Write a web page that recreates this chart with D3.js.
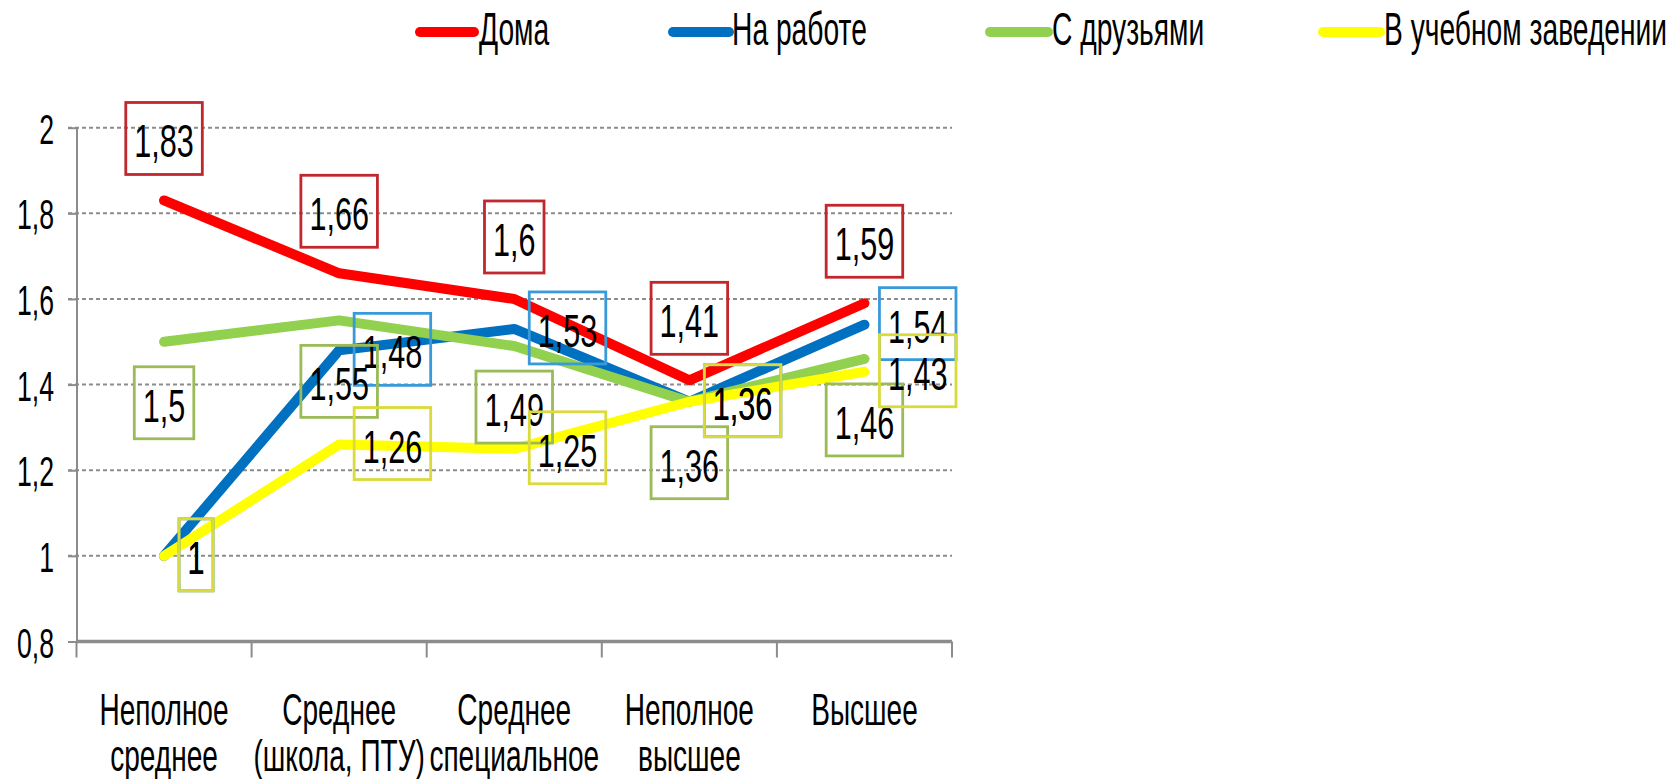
<!DOCTYPE html>
<html><head><meta charset="utf-8">
<script src="https://cdn.jsdelivr.net/npm/d3@7"></script>
<style>
html,body{margin:0;padding:0;background:#fff;}
svg text{font-family:"Liberation Sans Narrow","Arial Narrow","Liberation Sans",sans-serif;fill:#000;}
</style></head>
<body><svg id="c" width="1669" height="779"></svg>
<script>
const categories = [["Неполное","среднее"],["Среднее","(школа, ПТУ)"],["Среднее","специальное"],["Неполное","высшее"],["Высшее"]];
const seriesNames = ["Дома","На работе","С друзьями","В учебном заведении"];
const home    = [1.83, 1.66, 1.6, 1.41, 1.59];
const work    = [1.0, 1.48, 1.53, 1.36, 1.54];
const friends = [1.5, 1.55, 1.49, 1.36, 1.46];
const school  = [1.0, 1.26, 1.25, 1.36, 1.43];
const yTicks  = [0.8, 1.0, 1.2, 1.4, 1.6, 1.8, 2.0];

const lineColors  = ["#FF0000","#0070C0","#92D050","#FFFF00"];
const boxColors   = ["#C0282E","#3A9AD9","#9BBB59","#DADA3A"];
const labelPos    = ["above","right","below","right"];
const values = [home, work, friends, school];

const SY = 1.36;
const svg = d3.select("#c");
const catKeys = categories.map((c,i)=>i);
const x = d3.scaleBand().domain(catKeys).range([76.5, 952]).padding(0);
const y = d3.scaleLinear().domain([0.8, 2]).range([641.5, 127.7]);
const cx = i => x(i) + x.bandwidth()/2;
const fmt = v => String(v).replace(".", ",");

function stext(g, tx, ty, str, size, anchor, sx){
  sx = sx || 0.86;
  return g.append("text").attr("transform",`translate(${tx},${ty}) scale(${sx},${SY})`)
    .attr("text-anchor", anchor||"middle").style("font-size", size+"px").text(str);
}

// gridlines
svg.append("g").selectAll("line").data(yTicks.filter(t=>t>0.8)).join("line")
  .attr("x1",68).attr("x2",952).attr("y1",d=>y(d)).attr("y2",d=>y(d))
  .attr("stroke","#8c8c8c").attr("stroke-width",2).attr("stroke-dasharray","4,3");

// y axis
const yAxis = d3.axisLeft(y).tickValues(yTicks).tickSize(9).tickFormat("");
const gy = svg.append("g").attr("transform","translate(77,0)").call(yAxis);
gy.select(".domain").attr("stroke","#8c8c8c").attr("stroke-width",2).attr("d",`M0,${y(2)}V${y(0.8)}`);
gy.selectAll(".tick line").attr("stroke","#8c8c8c").attr("stroke-width",2);
yTicks.forEach(t=>{
  stext(svg, 54, y(t)+16, (t===2||t===1)? String(t) : fmt(t.toFixed(1)), 31, "end", 0.86);
});

// x axis
const gx = svg.append("g").attr("transform",`translate(0,${y(0.8)})`);
gx.append("line").attr("x1",76.5).attr("x2",952).attr("stroke","#8c8c8c").attr("stroke-width",3.5);
const bounds = catKeys.map(i=>x(i)).concat([x.range()[1]]);
gx.selectAll("line.tk").data(bounds).join("line").attr("class","tk")
  .attr("x1",d=>d).attr("x2",d=>d).attr("y1",0).attr("y2",16)
  .attr("stroke","#8c8c8c").attr("stroke-width",2);
categories.forEach((lines,i)=>{
  lines.forEach((ln,k)=>{ stext(svg, cx(i), 725 + k*46, ln, 33, "middle", 0.85); });
});

// lines
const lineGen = d3.line().x((d,i)=>cx(i)).y(d=>y(d));
values.forEach((vals,s)=>{
  svg.append("path").datum(vals).attr("d",lineGen).attr("fill","none")
    .attr("stroke",lineColors[s]).attr("stroke-width",10)
    .attr("stroke-linejoin","round").attr("stroke-linecap","round");
});

// labels
const LSX = 0.9;
values.forEach((vals,s)=>{
  const g = svg.append("g");
  vals.forEach((v,i)=>{
    const px = cx(i), py = y(v);
    const t = stext(g, 0, 0, fmt(v), 34, "middle", LSX);
    const w = t.node().getComputedTextLength() * LSX;
    const bw = w + 17, bh = 72;
    let bx, by;
    if (labelPos[s]==="above"){ bx = px; by = py - 62; }
    else if (labelPos[s]==="below"){ bx = px; by = py + 61; }
    else { bx = px + 15 + bw/2; by = py - 1; }
    t.attr("transform",`translate(${bx},${by+19}) scale(${LSX},${SY})`);
    g.insert("rect","text").attr("x",bx-bw/2).attr("y",by-bh/2).attr("width",bw).attr("height",bh)
      .attr("fill","none").attr("stroke",boxColors[s]).attr("stroke-width",2.8);
  });
});

// legend
const legX = [[420,474,479],[673,729,732],[990,1048,1052],[1323,1380,1384]];
seriesNames.forEach((n,s)=>{
  svg.append("line").attr("x1",legX[s][0]).attr("x2",legX[s][1]).attr("y1",32).attr("y2",32)
    .attr("stroke",lineColors[s]).attr("stroke-width",10).attr("stroke-linecap","round");
  stext(svg, legX[s][2], 45, n, 34, "start", 0.83);
});
</script></body></html>
